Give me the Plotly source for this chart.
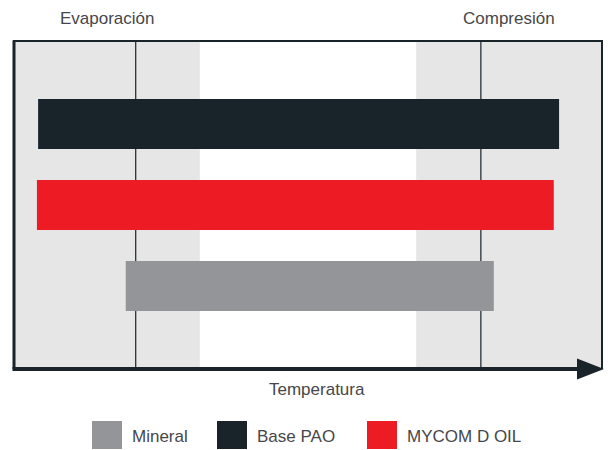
import plotly.graph_objects as go

# Series: operating temperature range of each lubricant (relative temperature scale 0-100)
series_names = ["Mineral", "MYCOM D OIL", "Base PAO"]
range_start = [19.0, 3.9, 4.1]
range_end = [81.6, 91.8, 92.7]
row_pos = [1, 2, 3]
series_colors = ["#939598", "#ed1c24", "#18232a"]

# Legend order
legend_names = ["Mineral", "Base PAO", "MYCOM D OIL"]

# Shaded zones and reference lines on the temperature scale
zone_left = [0.0, 31.6]
zone_right = [68.4, 100.0]
evap_line = 20.7
comp_line = 79.4

W, H = 609, 450
L, R, T, B = 14, 602, 41, 369
DARK = "#18232a"
TEXT = "#46474a"
FONT = "Liberation Sans, Arial, sans-serif"


def px(x):
    return (x - L) / (R - L)


def py(y):
    return (B - y) / (B - T)


fig = go.Figure()
for name, s, e, p, c in zip(series_names, range_start, range_end, row_pos, series_colors):
    fig.add_trace(go.Bar(
        y=[p], x=[e - s], base=[s], orientation="h", width=0.617,
        marker=dict(color=c, line=dict(width=0)), name=name, showlegend=False,
        hoverinfo="skip",
    ))

shapes = []
# grey zones
for z in (zone_left, zone_right):
    shapes.append(dict(type="rect", xref="x", yref="paper", x0=z[0], x1=z[1], y0=0, y1=1,
                       fillcolor="#e6e6e6", line=dict(width=0), layer="below"))
# reference lines
for xv in (evap_line, comp_line):
    shapes.append(dict(type="line", xref="x", yref="paper", x0=xv, x1=xv, y0=0, y1=1,
                       line=dict(color=DARK, width=1.2), layer="below"))
# frame
shapes.append(dict(type="line", xref="paper", yref="paper", x0=px(14), x1=px(14), y0=py(369), y1=py(40.5),
                   line=dict(color=DARK, width=3)))
shapes.append(dict(type="line", xref="paper", yref="paper", x0=px(13), x1=px(603), y0=py(41), y1=py(41),
                   line=dict(color=DARK, width=2)))
shapes.append(dict(type="line", xref="paper", yref="paper", x0=px(602), x1=px(602), y0=py(41), y1=py(369),
                   line=dict(color=DARK, width=2)))
# temperature axis with arrow
shapes.append(dict(type="line", xref="paper", yref="paper", x0=px(12.5), x1=px(585), y0=py(369), y1=py(369),
                   line=dict(color=DARK, width=4)))
shapes.append(dict(type="path", xref="paper", yref="paper",
                   path=f"M {px(577)},{py(358.5)} L {px(604)},{py(369)} L {px(577)},{py(379.5)} Z",
                   fillcolor=DARK, line=dict(width=0)))

annotations = [
    dict(text="Evaporación", x=px(107), y=py(19), xref="paper", yref="paper", showarrow=False,
         font=dict(family=FONT, size=17, color=TEXT), xanchor="center", yanchor="middle"),
    dict(text="Compresión", x=px(509), y=py(19), xref="paper", yref="paper", showarrow=False,
         font=dict(family=FONT, size=17, color=TEXT), xanchor="center", yanchor="middle"),
    dict(text="Temperatura", x=px(317), y=py(389), xref="paper", yref="paper", showarrow=False,
         font=dict(family=FONT, size=17, color=TEXT), xanchor="center", yanchor="middle"),
]

# custom legend with large swatches
legend_x = [92, 217, 367]
color_of = dict(zip(series_names, series_colors))
for name, lx in zip(legend_names, legend_x):
    shapes.append(dict(type="rect", xref="paper", yref="paper", x0=px(lx), x1=px(lx + 30),
                       y0=py(449), y1=py(421), fillcolor=color_of[name], line=dict(width=0)))
    annotations.append(dict(text=name, x=px(lx + 38), y=py(436), xref="paper", yref="paper",
                            showarrow=False, xanchor="left", yanchor="middle",
                            font=dict(family=FONT, size=17, color=TEXT)))

fig.update_layout(
    width=W, height=H,
    margin=dict(l=L, r=W - R, t=T, b=H - B),
    paper_bgcolor="white", plot_bgcolor="white",
    xaxis=dict(range=[0, 100], visible=False, fixedrange=True),
    yaxis=dict(range=[-0.025, 4.025], visible=False, fixedrange=True),
    shapes=shapes, annotations=annotations,
    barmode="overlay", showlegend=False,
)

fig.write_html("out.html")
